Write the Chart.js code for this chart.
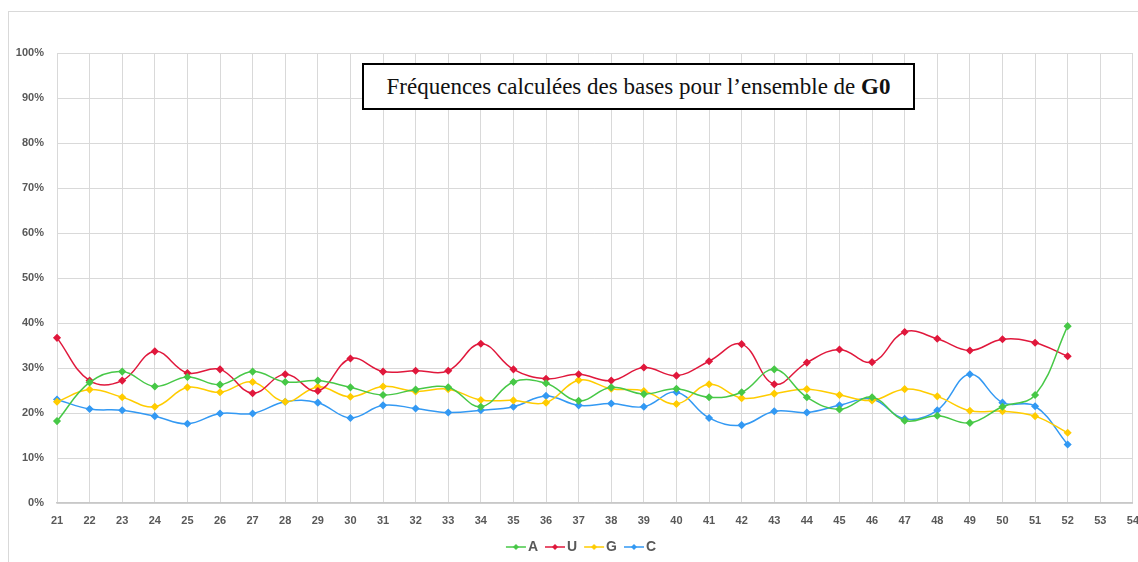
<!DOCTYPE html>
<html lang="fr">
<head>
<meta charset="utf-8">
<title>Fréquences calculées des bases - G0</title>
<script src="https://cdn.jsdelivr.net/npm/chart.js@4.4.1/dist/chart.umd.min.js"></script>
<style>
    html, body {
        margin: 0;
        padding: 0;
        background: #ffffff;
        overflow: hidden;
    }
    #wrap {
        position: relative;
        width: 1138px;
        height: 562px;
        overflow: hidden;
    }
    #frame {
        position: absolute;
        left: 8px;
        top: 11px;
        right: -2px;
        bottom: -2px;
        border-left: 1px solid #d9d9d9;
        border-top: 1px solid #d9d9d9;
    }
    #base-chart {
        position: absolute;
        left: 0;
        top: 0;
    }
    #chart-title {
        position: absolute;
        left: 362px;
        top: 63px;
        width: 549px;
        height: 43px;
        border: 2px solid #000000;
        background: #ffffff;
        font-family: "Liberation Serif", "DejaVu Serif", serif;
        font-size: 23px;
        color: #111111;
        text-align: center;
        line-height: 43px;
        white-space: nowrap;
    }
</style>
</head>
<body>
<div id="wrap">
    <div id="frame"></div>
    <canvas id="base-chart" width="1150" height="564"></canvas>
    <div id="chart-title">Fréquences calculées des bases pour l’ensemble de <b>G0</b></div>
</div>
<script>
// Positions along the sequence (x-axis)
const positions = ["21", "22", "23", "24", "25", "26", "27", "28", "29", "30",
    "31", "32", "33", "34", "35", "36", "37", "38", "39", "40",
    "41", "42", "43", "44", "45", "46", "47", "48", "49", "50",
    "51", "52", "53", "54"];

// Base frequencies in %, positions 53 and 54 have no data
const freqA = [18.2, 26.8, 29.2, 25.9, 28.0, 26.3, 29.2, 26.9, 27.2, 25.7,
    24.0, 25.2, 25.7, 21.4, 26.9, 26.6, 22.7, 25.7, 24.2, 25.4,
    23.5, 24.6, 29.7, 23.5, 20.8, 23.5, 18.3, 19.4, 17.8, 21.4,
    24.0, 39.3, null, null];
const freqU = [36.7, 27.2, 27.2, 33.7, 28.9, 29.7, 24.4, 28.6, 24.9, 32.1,
    29.2, 29.4, 29.4, 35.4, 29.7, 27.6, 28.6, 27.2, 30.1, 28.3,
    31.5, 35.3, 26.4, 31.2, 34.1, 31.3, 38.0, 36.5, 33.9, 36.4,
    35.6, 32.6, null, null];
const freqG = [22.5, 25.2, 23.5, 21.4, 25.7, 24.6, 26.9, 22.5, 25.8, 23.6,
    25.9, 24.8, 25.3, 22.9, 22.8, 22.3, 27.3, 25.4, 24.9, 22.0,
    26.4, 23.3, 24.3, 25.3, 24.0, 22.8, 25.3, 23.7, 20.5, 20.4,
    19.3, 15.6, null, null];
const freqC = [23.0, 20.9, 20.6, 19.3, 17.6, 19.9, 19.9, 22.5, 22.3, 18.9,
    21.7, 21.0, 20.1, 20.6, 21.4, 23.8, 21.7, 22.1, 21.4, 24.6,
    18.9, 17.3, 20.4, 20.1, 21.7, 23.1, 18.7, 20.6, 28.6, 22.3,
    21.5, 13.0, null, null];

// Y-axis tick labels
const yTicks = ["0%", "10%", "20%", "30%", "40%", "50%", "60%", "70%", "80%", "90%", "100%"];

const baseColors = {
    A: "#47c847",
    U: "#e0183c",
    G: "#ffcc00",
    C: "#3399f3",
};

const axisFont = { family: "'Liberation Sans', Arial, sans-serif", size: 11, weight: "bold" };

// Line + diamond marker used as legend symbol (drawn right of centre so the text sits close)
function legendSymbol(color) {
    const c = document.createElement("canvas");
    c.width = 32;
    c.height = 8;
    const g = c.getContext("2d");
    g.strokeStyle = color;
    g.lineWidth = 1.5;
    g.beginPath();
    g.moveTo(8, 4);
    g.lineTo(28, 4);
    g.stroke();
    g.fillStyle = color;
    g.beginPath();
    g.moveTo(18, 1);
    g.lineTo(21, 4);
    g.lineTo(18, 7);
    g.lineTo(15, 4);
    g.closePath();
    g.fill();
    return c;
}

function makeDataset(label, values) {
    return {
        label: label,
        data: values,
        borderColor: baseColors[label],
        backgroundColor: baseColors[label],
        borderWidth: 1.5,
        pointRadius: 3,
        pointHoverRadius: 3,
        pointStyle: "rectRot",
        tension: 0.4,
        fill: false,
        spanGaps: false,
    };
}

// Nudge the legend a few pixels right
const legendNudge = {
    id: "legendNudge",
    afterLayout(chart) {
        chart.legend.left += 5;
        chart.legend.right += 5;
    },
};

const ctx = document.getElementById("base-chart").getContext("2d");
const baseChart = new Chart(ctx, {
    type: "line",
    data: {
        labels: positions,
        datasets: [
            makeDataset("A", freqA),
            makeDataset("U", freqU),
            makeDataset("G", freqG),
            makeDataset("C", freqC),
        ],
    },
    plugins: [legendNudge],
    options: {
        responsive: false,
        animation: false,
        layout: {
            padding: { left: 12, top: 53, right: 9, bottom: 0 },
        },
        plugins: {
            title: { display: false },
            tooltip: { enabled: false },
            legend: {
                position: "bottom",
                labels: {
                    usePointStyle: true,
                    padding: 8,
                    color: "#595959",
                    font: { family: "'Liberation Sans', Arial, sans-serif", size: 14, weight: "bold" },
                    generateLabels: (chart) => chart.data.datasets.map((ds, i) => ({
                        text: ds.label,
                        pointStyle: legendSymbol(ds.borderColor),
                        fillStyle: ds.borderColor,
                        strokeStyle: ds.borderColor,
                        fontColor: "#595959",
                        lineWidth: 0,
                        hidden: false,
                        datasetIndex: i,
                    })),
                },
            },
        },
        scales: {
            x: {
                offset: false,
                grid: { color: "#d9d9d9", drawTicks: false },
                border: { color: "#c8c8c8", width: 1.5 },
                ticks: {
                    color: "#595959",
                    font: axisFont,
                    padding: 11,
                    maxRotation: 0,
                    autoSkip: false,
                },
                afterFit: (scale) => { scale.height = 29; },
            },
            y: {
                min: 0,
                max: 100,
                grid: { color: "#d9d9d9", drawTicks: false },
                border: { display: false },
                ticks: {
                    stepSize: 10,
                    color: "#595959",
                    font: axisFont,
                    padding: 13,
                    callback: (value) => yTicks[Math.round(value / 10)],
                },
                afterFit: (scale) => { scale.width = 45; },
            },
        },
    },
});
</script>
</body>
</html>
